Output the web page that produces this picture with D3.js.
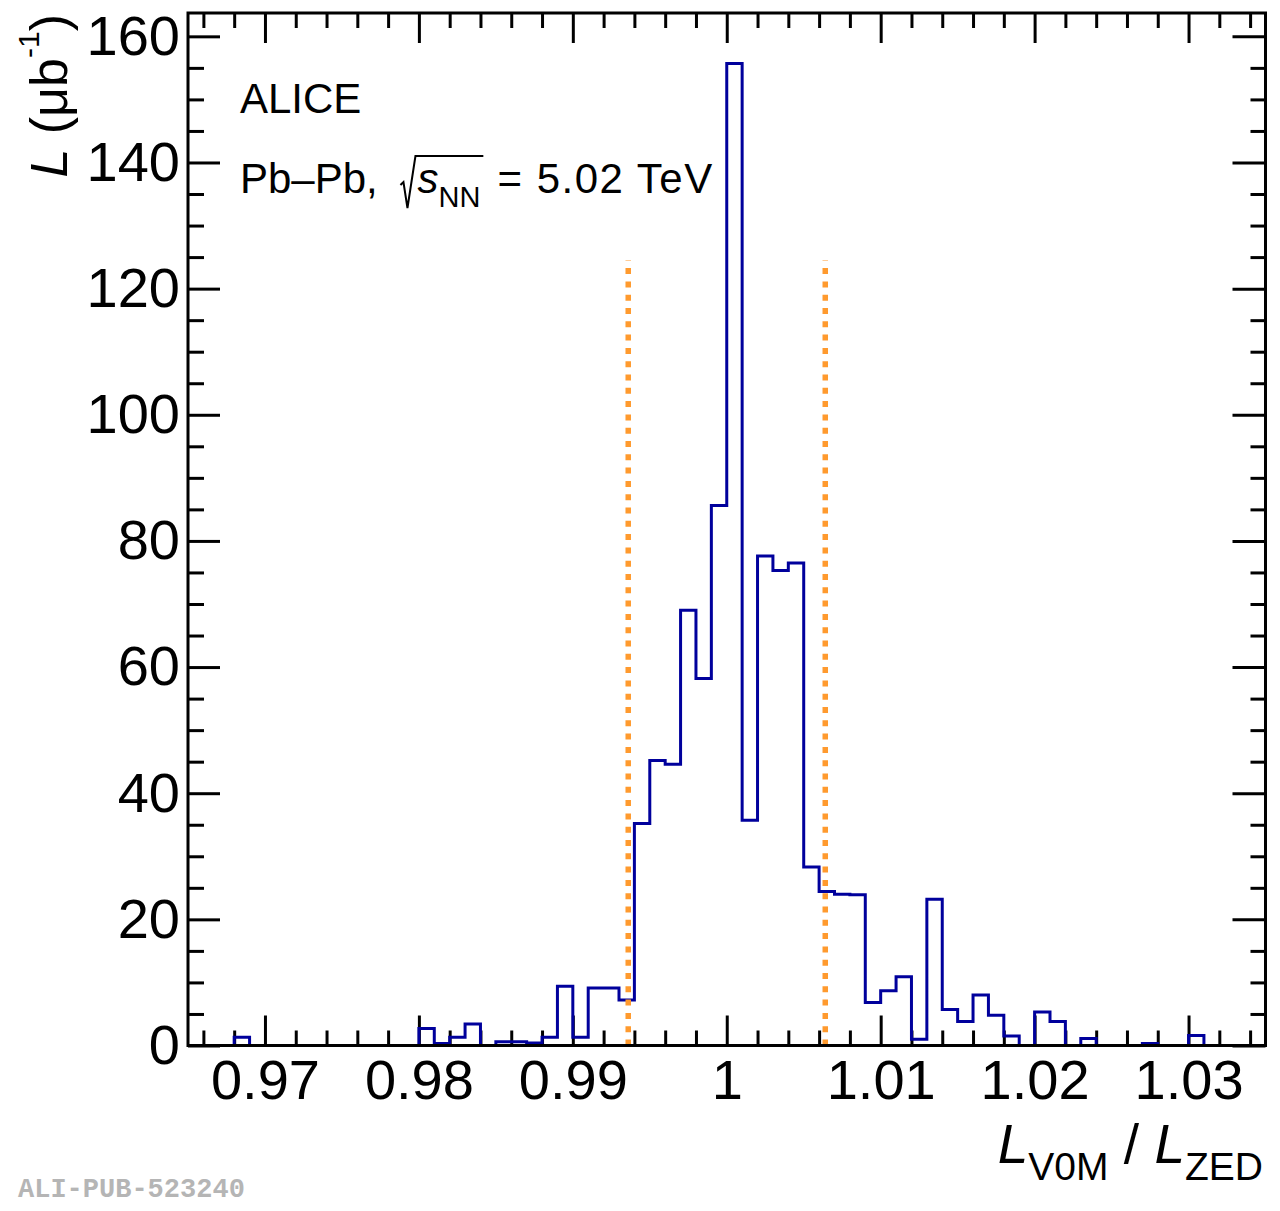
<!DOCTYPE html>
<html>
<head>
<meta charset="utf-8">
<script src="https://cdn.jsdelivr.net/npm/d3@7"></script>
<style>
  body { margin: 0; background: #fff; }
  svg { display: block; font-family: "Liberation Sans", Arial, Helvetica, sans-serif; }
</style>
</head>
<body>
<div class="chart"></div>
<script>
// histogram: 70 bins of width 0.001 from 0.965 to 1.035
const binLow = 0.965;
const binWidth = 0.001;
const lumi = [
    0, 0, 0, 1.3, 0, 0, 0, 0, 0, 0,
    0, 0, 0, 0, 0, 2.7, 0.3, 1.3, 3.4, 0,
    0.6, 0.6, 0.4, 1.3, 9.4, 1.3, 9.1, 9.1, 7.2, 35.2,
    45.2, 44.6, 69.0, 58.2, 85.6, 155.7, 35.7, 77.6, 75.3, 76.5,
    28.3, 24.4, 24.0, 23.9, 6.8, 8.7, 10.9, 1.0, 23.2, 5.7,
    3.8, 8.0, 4.8, 1.5, 0, 5.3, 3.8, 0, 1.1, 0,
    0, 0, 0.3, 0, 0, 1.6, 0, 0, 0, 0
];

// selection window (orange dotted lines)
const cutValues = [0.9936, 1.0064];
const cutTop = 124.5;

const xTickValues = [0.97, 0.98, 0.99, 1.0, 1.01, 1.02, 1.03];
const xTickLabels = ["0.97", "0.98", "0.99", "1", "1.01", "1.02", "1.03"];
const yTickValues = [0, 20, 40, 60, 80, 100, 120, 140, 160];

const width = 1280;
const height = 1211;
const frame = { left: 188, right: 1265.5, top: 13, bottom: 1045.5 };

const x = d3.scaleLinear()
    .domain([0.965, 1.035])
    .range([frame.left, frame.right]);

const y = d3.scaleLinear()
    .domain([0, 163.7])
    .range([frame.bottom, frame.top]);

const svg = d3.select(".chart")
    .append("svg")
    .attr("width", width)
    .attr("height", height);

// minor tick positions
const xMinor = d3.range(0.966, 1.0345, 0.002)
    .map(d => +d.toFixed(3))
    .filter(d => !xTickValues.some(t => Math.abs(t - d) < 1e-6));
const yMinor = d3.range(5, 161, 5).filter(d => d % 20 !== 0);

function styleAxis(g) {
    g.select(".domain").remove();
    g.selectAll(".tick line").attr("stroke", "#000").attr("stroke-width", 3);
}

// bottom axis with labels
svg.append("g")
    .attr("transform", `translate(0,${frame.bottom})`)
    .call(d3.axisBottom(x)
        .tickValues(xTickValues)
        .tickSize(-30)
        .tickPadding(14)
        .tickFormat((d, i) => xTickLabels[i]))
    .call(styleAxis)
    .call(g => g.selectAll("text")
        .attr("font-size", 56)
        .attr("font-family", "Liberation Sans, Arial, sans-serif")
        .attr("fill", "#000"));

svg.append("g")
    .attr("transform", `translate(0,${frame.bottom})`)
    .call(d3.axisBottom(x).tickValues(xMinor).tickSize(-15).tickFormat(""))
    .call(styleAxis);

// top mirror ticks
svg.append("g")
    .attr("transform", `translate(0,${frame.top})`)
    .call(d3.axisTop(x).tickValues(xTickValues).tickSize(-30).tickFormat(""))
    .call(styleAxis);
svg.append("g")
    .attr("transform", `translate(0,${frame.top})`)
    .call(d3.axisTop(x).tickValues(xMinor).tickSize(-15).tickFormat(""))
    .call(styleAxis);

// left axis with labels
svg.append("g")
    .attr("transform", `translate(${frame.left},0)`)
    .call(d3.axisLeft(y)
        .tickValues(yTickValues)
        .tickSize(-32)
        .tickPadding(8))
    .call(styleAxis)
    .call(g => g.selectAll("text")
        .attr("font-size", 56)
        .attr("font-family", "Liberation Sans, Arial, sans-serif")
        .attr("fill", "#000"));
svg.append("g")
    .attr("transform", `translate(${frame.left},0)`)
    .call(d3.axisLeft(y).tickValues(yMinor).tickSize(-16).tickFormat(""))
    .call(styleAxis);

// right mirror ticks
svg.append("g")
    .attr("transform", `translate(${frame.right},0)`)
    .call(d3.axisRight(y).tickValues(yTickValues).tickSize(-33).tickFormat(""))
    .call(styleAxis);
svg.append("g")
    .attr("transform", `translate(${frame.right},0)`)
    .call(d3.axisRight(y).tickValues(yMinor).tickSize(-15).tickFormat(""))
    .call(styleAxis);

// histogram as a step line
const steps = lumi.map((v, i) => [binLow + i * binWidth, v]);
steps.push([binLow + lumi.length * binWidth, lumi[lumi.length - 1]]);

svg.append("path")
    .datum(steps)
    .attr("fill", "none")
    .attr("stroke", "#00009c")
    .attr("stroke-width", 3)
    .attr("d", d3.line()
        .x(d => x(d[0]))
        .y(d => y(d[1]))
        .curve(d3.curveStepAfter));

// cut lines
svg.append("g")
    .selectAll("line")
    .data(cutValues)
    .enter()
    .append("line")
    .attr("x1", d => x(d))
    .attr("x2", d => x(d))
    .attr("y1", y(0))
    .attr("y2", y(cutTop))
    .attr("stroke", "#ff9a2e")
    .attr("stroke-width", 5.5)
    .attr("stroke-dasharray", "6 7.3");

// frame
svg.append("rect")
    .attr("x", frame.left)
    .attr("y", frame.top)
    .attr("width", frame.right - frame.left)
    .attr("height", frame.bottom - frame.top)
    .attr("fill", "none")
    .attr("stroke", "#000")
    .attr("stroke-width", 3);

// y title
const yTitle = svg.append("text")
    .attr("transform", "translate(67,14) rotate(-90)")
    .attr("text-anchor", "end")
    .attr("font-size", 52);
yTitle.append("tspan").attr("font-style", "italic").text("L");
yTitle.append("tspan").text(" (μb");
yTitle.append("tspan").attr("font-size", 30).attr("dy", -28).text("-1");
yTitle.append("tspan").attr("dy", 28).text(")");

// x title
const xTitle = svg.append("text")
    .attr("x", 1263)
    .attr("y", 1163)
    .attr("text-anchor", "end")
    .attr("font-size", 55);
xTitle.append("tspan").attr("font-style", "italic").text("L");
xTitle.append("tspan").attr("font-size", 39).attr("dy", 17).text("V0M");
xTitle.append("tspan").attr("dy", -17).text(" / ");
xTitle.append("tspan").attr("font-style", "italic").text("L");
xTitle.append("tspan").attr("font-size", 39).attr("dy", 17).text("ZED");

// labels inside the frame
svg.append("text")
    .attr("x", 240)
    .attr("y", 113)
    .attr("font-size", 42)
    .text("ALICE");

const sys = svg.append("text")
    .attr("x", 240)
    .attr("y", 193)
    .attr("font-size", 42);
sys.append("tspan").text("Pb–Pb, ");
sys.append("tspan").attr("dx", 28).attr("font-style", "italic").text("s");
sys.append("tspan").attr("font-size", 29).attr("dy", 14).text("NN");
sys.append("tspan").attr("dy", -14).attr("dx", 4).attr("letter-spacing", 1.5).text(" = 5.02 TeV");

// radical sign drawn over s_NN
const sysNode = sys.node();
const sx = sysNode.getStartPositionOfChar(7).x;
const nnEnd = sysNode.getEndPositionOfChar(9).x;
svg.append("path")
    .attr("fill", "none")
    .attr("stroke", "#000")
    .attr("stroke-width", 2)
    .attr("d", `M${sx - 17},185 L${sx - 14},182 L${sx - 10},208 L${sx - 2},156 L${nnEnd + 3},156`);

// publication id
svg.append("text")
    .attr("x", 18)
    .attr("y", 1197)
    .attr("font-family", "Liberation Mono, Courier New, monospace")
    .attr("font-weight", "bold")
    .attr("font-size", 27)
    .attr("fill", "#b5b5b5")
    .text("ALI-PUB-523240");
</script>
</body>
</html>
